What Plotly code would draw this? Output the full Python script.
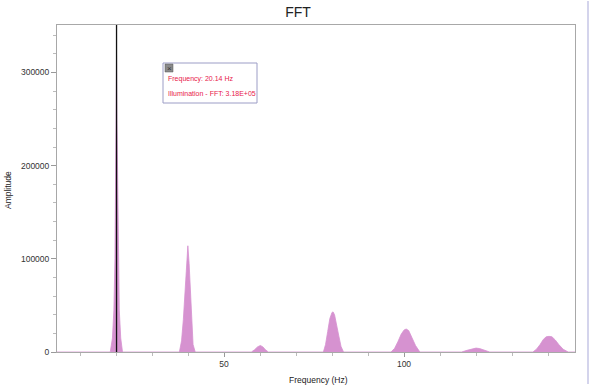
import plotly.graph_objects as go

# ---- data (FFT spectrum, Hz vs amplitude) ----
freq_hz = [3.6,
           18.4, 19.0, 19.4, 19.7, 19.9, 20.05, 20.14, 20.25, 20.4, 20.6, 20.9, 21.3, 21.8,
           37.6, 38.2, 38.7, 39.2, 39.6, 39.95, 40.3, 40.7, 41.0, 41.4, 42.0,
           57.6, 58.5, 59.3, 60.1, 60.8, 61.5, 62.3,
           77.6, 78.2, 78.8, 79.4, 80.0, 80.3, 80.7, 81.3, 81.9, 82.5, 83.2,
           96.4, 97.4, 98.3, 99.2, 100.0, 100.6, 101.3, 102.2, 103.2, 104.4,
           116.0, 117.5, 119.0, 120.0, 121.0, 122.5, 123.8,
           135.8, 136.8, 137.8, 138.7, 139.5, 140.3, 141.1, 142.0, 143.0, 144.2, 145.6, 147.5]
amplitude = [0,
             0, 15000, 45000, 100000, 185000, 250000, 318000, 250000, 185000, 100000, 45000, 15000, 0,
             0, 12000, 35000, 65000, 95000, 114000, 95000, 60000, 30000, 8000, 0,
             0, 2500, 5500, 7000, 5500, 2500, 0,
             0, 8000, 22000, 36000, 42500, 43000, 40000, 30000, 17000, 6000, 0,
             0, 4000, 11000, 19000, 23500, 24700, 23000, 16000, 7000, 0,
             0, 1800, 3700, 4200, 3700, 1800, 0,
             0, 3000, 8000, 13500, 16300, 16800, 16300, 13000, 8000, 3000, 0, 0]

cursor_freq = 20.14
cursor_text = ["Frequency: 20.14 Hz", "Illumination - FFT: 3.18E+05"]
x_range = [3.6, 147.5]
y_range = [0, 351000]
x_tickvals = [50, 100]
y_tickvals = [0, 100000, 200000, 300000]

# ---- layout geometry (pixels) ----
W, H = 591, 385
L, R, T, B = 57, 575, 25, 352


def px(x):
    return (x - L) / (R - L)


def py(y):
    return (B - y) / (B - T)


FONT = "Liberation Sans, Arial, Helvetica, sans-serif"
PINK = "rgb(214,146,208)"

fig = go.Figure()
fig.add_trace(go.Scatter(
    x=freq_hz, y=amplitude, mode="lines", fill="tozeroy",
    line=dict(color=PINK, width=0.8), fillcolor=PINK,
    hoverinfo="skip", showlegend=False,
))

shapes = [
    # cursor line
    dict(type="line", xref="x", yref="paper", x0=cursor_freq, x1=cursor_freq,
         y0=0, y1=1, line=dict(color="#111", width=1.3)),
    # info box
    dict(type="rect", xref="paper", yref="paper", x0=px(163), x1=px(257),
         y0=py(103), y1=py(63), line=dict(color="#9c9dc6", width=1),
         fillcolor="white"),
    # close icon
    dict(type="rect", xref="paper", yref="paper", x0=px(165), x1=px(173),
         y0=py(72), y1=py(64), line=dict(color="#555", width=0.5),
         fillcolor="#8a8a8a"),
    # right-hand window edge
    dict(type="line", xref="paper", yref="paper", x0=px(588), x1=px(588),
         y0=py(384), y1=py(1), line=dict(color="#c6c6e6", width=1.5)),
]

annotations = [
    dict(xref="paper", yref="paper", x=px(169), y=py(68), text="×",
         showarrow=False, font=dict(family=FONT, size=8, color="#333"),
         xanchor="center", yanchor="middle"),
    dict(xref="paper", yref="paper", x=px(166), y=py(79), text=cursor_text[0],
         showarrow=False, font=dict(family=FONT, size=7, color="#e8204a"),
         xanchor="left", yanchor="middle"),
    dict(xref="paper", yref="paper", x=px(166), y=py(93), text=cursor_text[1],
         showarrow=False, font=dict(family=FONT, size=7, color="#e8204a"),
         xanchor="left", yanchor="middle"),
    dict(xref="paper", yref="paper", x=px(318), y=py(380), text="Frequency (Hz)",
         showarrow=False, font=dict(family=FONT, size=8.5, color="#222"),
         xanchor="center", yanchor="middle"),
    dict(xref="paper", yref="paper", x=px(8), y=py(190), text="Amplitude",
         showarrow=False, textangle=-90, font=dict(family=FONT, size=8.5, color="#222"),
         xanchor="center", yanchor="middle"),
]

fig.update_layout(
    width=W, height=H,
    margin=dict(l=L, r=W - R, t=T, b=H - B, autoexpand=False),
    paper_bgcolor="white", plot_bgcolor="white",
    title=dict(text="FFT", x=298 / W, xanchor="center", y=1 - 12 / H,
               yanchor="middle", font=dict(family=FONT, size=14, color="#222")),
    font=dict(family=FONT, size=8.5, color="#333"),
    shapes=shapes, annotations=annotations,
    showlegend=False,
)

fig.update_xaxes(
    range=x_range, tickvals=x_tickvals, ticks="outside", ticklen=4,
    tickcolor="#999", showgrid=False, zeroline=False, automargin=False,
    showline=True, linecolor="#a8a8a8", linewidth=1, mirror=True,
    minor=dict(dtick=10, tick0=0, ticks="outside", ticklen=3, tickcolor="#bbb"),
    tickfont=dict(size=8.5, color="#333"),
)
fig.update_yaxes(
    range=y_range, tickvals=y_tickvals, ticks="outside", ticklen=5,
    tickcolor="#999", showgrid=False, zeroline=False, automargin=False,
    showline=True, linecolor="#a8a8a8", linewidth=1, mirror=True,
    minor=dict(dtick=20000, tick0=0, ticks="outside", ticklen=3, tickcolor="#bbb"),
    tickfont=dict(size=8.5, color="#333"), tickformat="d",
)

fig.write_html("out.html",
               config={"displayModeBar": False},
               post_script="document.body.style.margin='0px';"
                           "document.body.style.overflow='hidden';")
